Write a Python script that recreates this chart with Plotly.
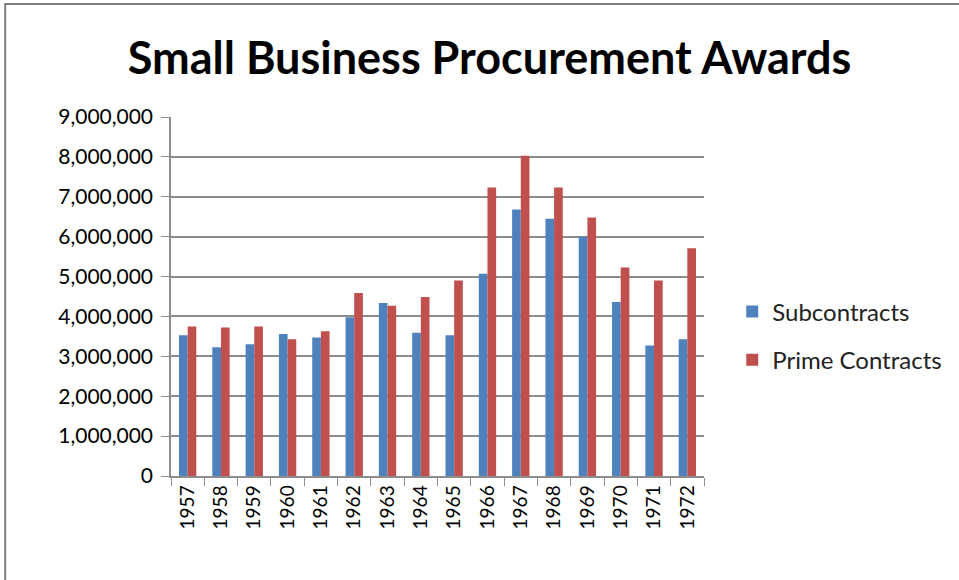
import plotly.graph_objects as go

# Years on the category axis
years = [str(y) for y in range(1957, 1973)]

# Award totals
subcontracts = [3530000, 3230000, 3300000, 3560000, 3470000, 3980000, 4340000, 3590000,
                3530000, 5070000, 6680000, 6450000, 6000000, 4360000, 3270000, 3430000]
prime_contracts = [3750000, 3720000, 3750000, 3430000, 3630000, 4590000, 4270000, 4490000,
                   4900000, 7230000, 8030000, 7230000, 6480000, 5230000, 4900000, 5710000]

y_ticks = list(range(0, 9000001, 1000000))

fig = go.Figure()
fig.add_trace(go.Bar(x=years, y=subcontracts, name="Subcontracts", legendgroup="sub",
                     marker=dict(color="#4F81BD", line=dict(width=0))))
fig.add_trace(go.Bar(x=years, y=prime_contracts, name="Prime Contracts", legendgroup="prime",
                     marker=dict(color="#C0504D", line=dict(width=0))))

fig.update_layout(
    width=959, height=580,
    margin=dict(l=171, r=255, t=117, b=104),
    paper_bgcolor="white", plot_bgcolor="white",
    font=dict(family="Lato", color="black"),
    title=dict(text="<b>Small Business Procurement Awards</b>", x=0.5105, xanchor="center",
               y=0.9, yanchor="middle", font=dict(size=45, family="Lato", color="black")),
    barmode="group", bargap=0.48, bargroupgap=0,
    legend=dict(x=1.053, y=0.39, xanchor="left", yanchor="middle",
                font=dict(size=24, color="#222"), itemsizing="constant",
                tracegroupgap=14, bgcolor="rgba(0,0,0,0)"),
    showlegend=True,
)
fig.update_xaxes(type="category", tickangle=-90, tickfont=dict(size=19),
                 showline=True, linecolor="#8c8c8c", linewidth=1.5,
                 ticks="outside", tickson="boundaries", ticklen=8, tickcolor="#8c8c8c",
                 showgrid=False)
fig.update_yaxes(range=[0, 9000000], tickvals=y_ticks, tickformat=",d",
                 tickfont=dict(size=21), ticklabelstandoff=4,
                 showline=True, linecolor="#8c8c8c", linewidth=1.5,
                 ticks="outside", ticklen=8, tickcolor="#8c8c8c",
                 showgrid=True, gridcolor="#8c8c8c", gridwidth=1.5, zeroline=False)

# outer chart frame
fig.add_shape(type="rect", xref="paper", yref="paper", x0=-0.311, x1=1.5, y0=-0.31, y1=1.315,
              line=dict(color="#7f7f7f", width=2), fillcolor="rgba(0,0,0,0)", layer="below")

fig.write_html("out.html", config={"displayModeBar": False},
               post_script="document.body.style.margin='0';")
